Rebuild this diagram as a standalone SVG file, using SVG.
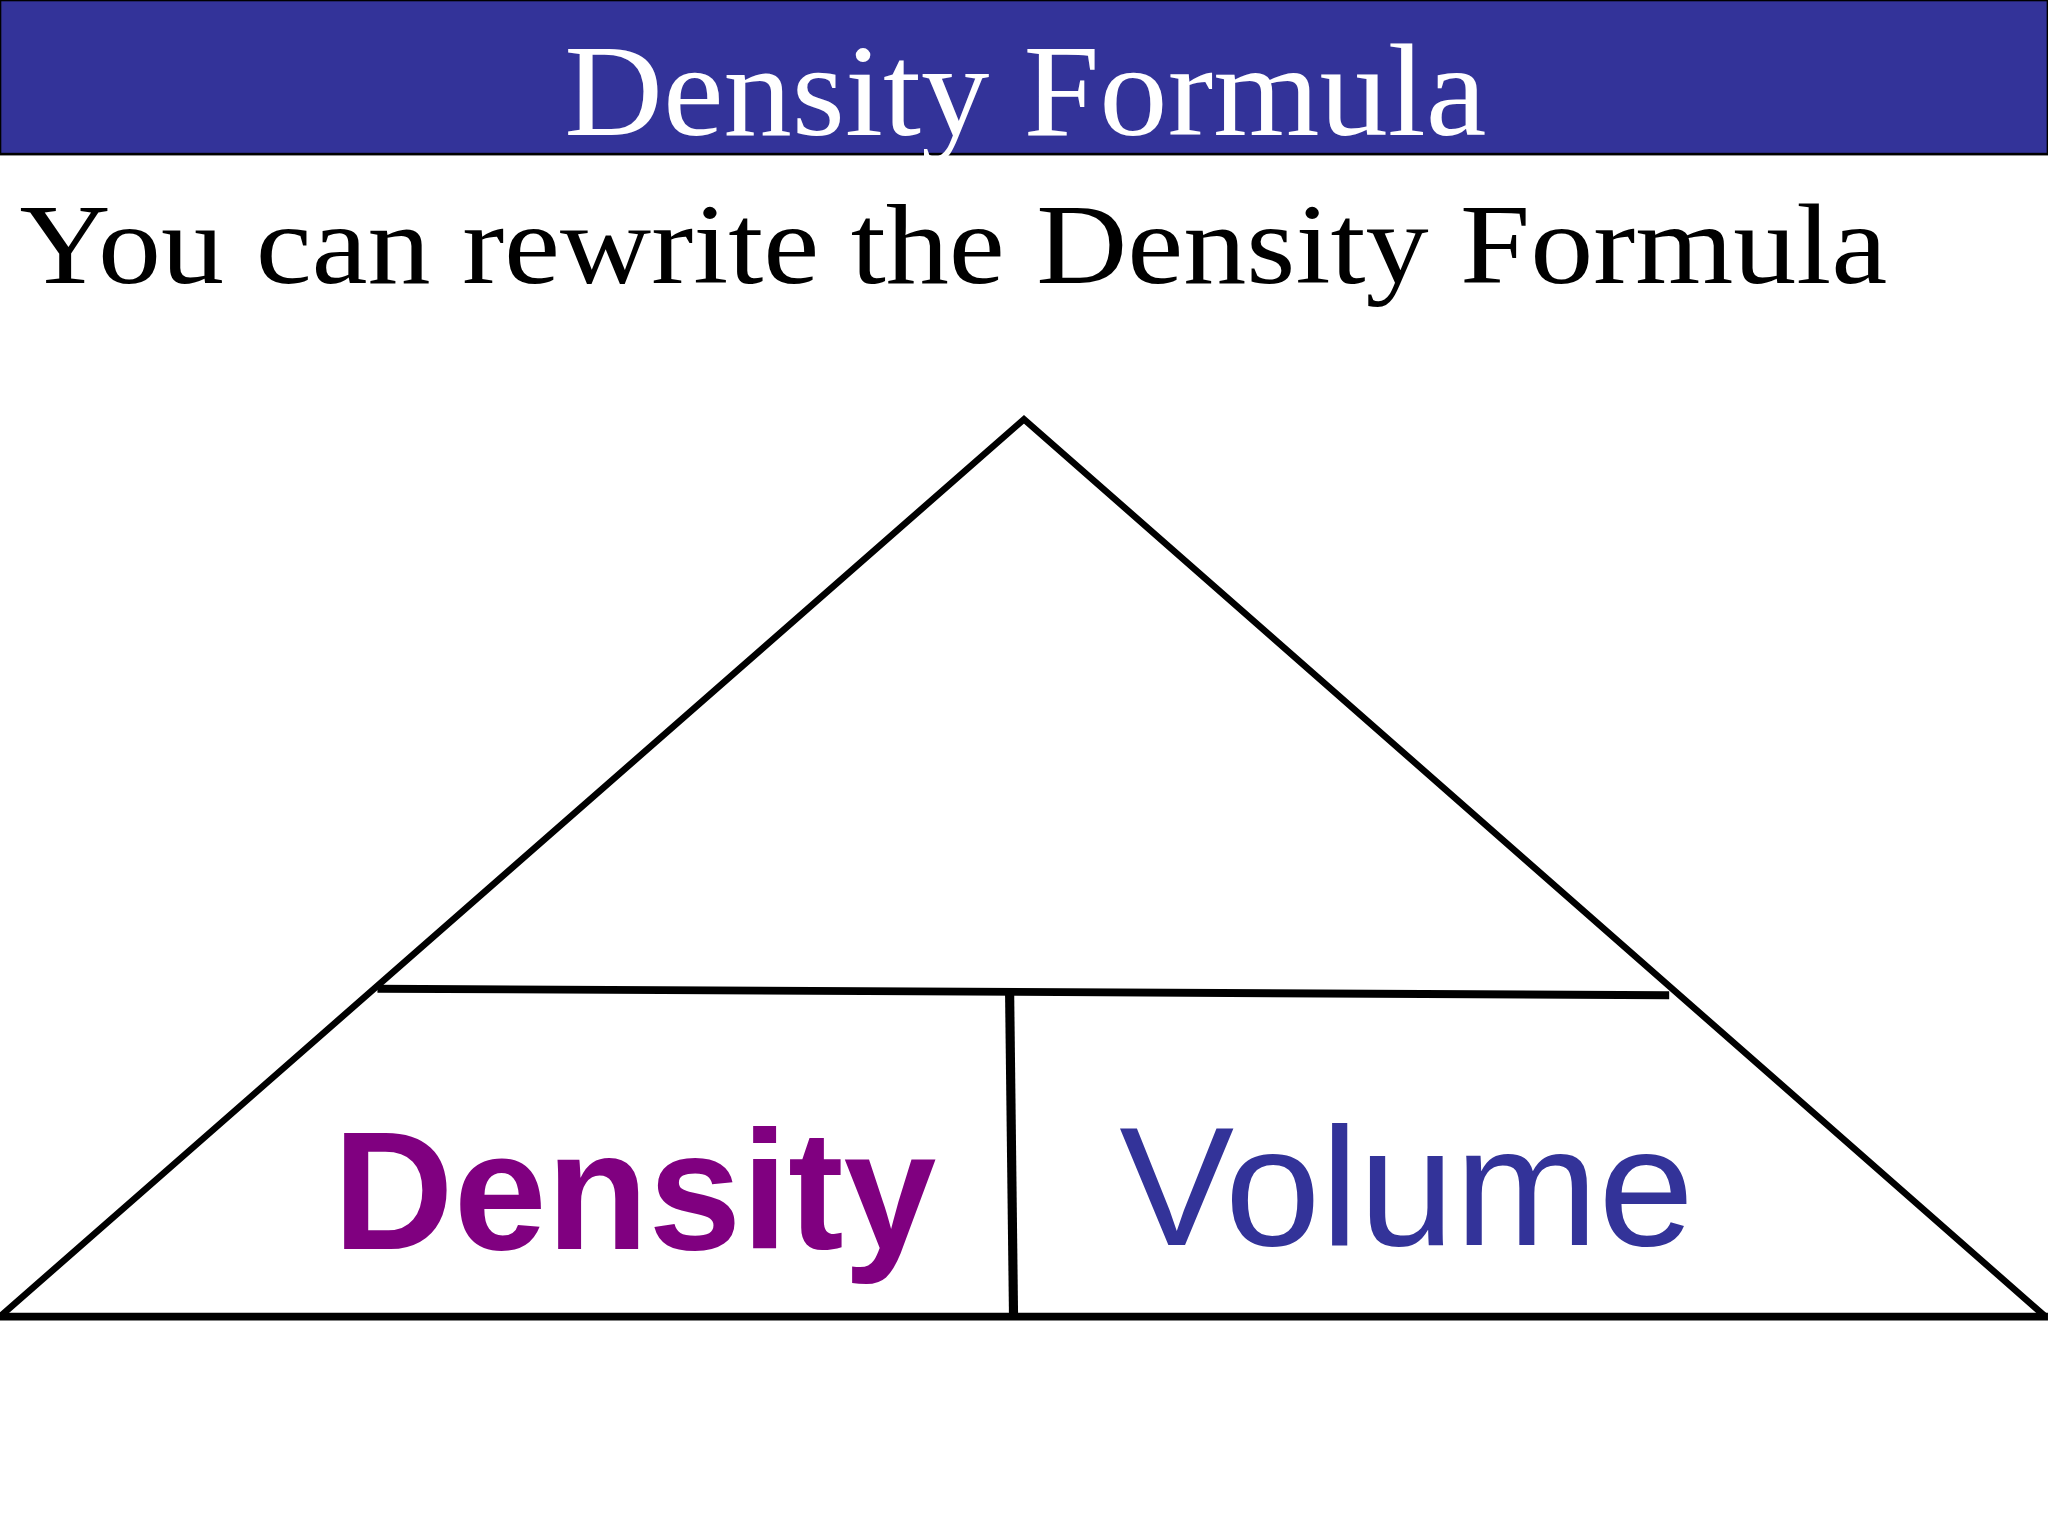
<svg xmlns="http://www.w3.org/2000/svg" width="2048" height="1536" viewBox="0 0 2048 1536">
<style>
.ln{stroke:#000;fill:none}
.serif{font-family:"Liberation Serif",serif}
.sans{font-family:"Liberation Sans",sans-serif}
</style>
<rect width="2048" height="1536" fill="#fff"/>
<g transform="scale(1.3061)">
<g id="header">
<rect x="0" y="0" width="1568" height="118" fill="#333399" stroke="#000" stroke-width="2"/>
<text x="432" y="103" class="serif" font-size="100" fill="#fff" textLength="706" lengthAdjust="spacingAndGlyphs">Density Formula</text>
</g>
<g id="subtitle">
<text x="15" y="217" class="serif" font-size="88" fill="#000" textLength="1430" lengthAdjust="spacingAndGlyphs">You can rewrite the Density Formula</text>
</g>
<g id="connectors">
<polyline class="ln" stroke-width="5" points="0,1008 784,321 1566,1008"/>
<line class="ln" stroke-width="6" x1="0" y1="1008" x2="1568" y2="1008"/>
<line class="ln" stroke-width="6" x1="289" y1="757" x2="1278" y2="762"/>
<line class="ln" stroke-width="7" x1="773" y1="760" x2="776" y2="1008"/>
</g>
<g id="density">
<text x="255" y="956" class="sans" font-weight="bold" font-size="130" fill="#800080" textLength="462" lengthAdjust="spacingAndGlyphs">Density</text>
</g>
<g id="volume">
<text x="857" y="953" class="sans" font-size="130" fill="#333399" textLength="440" lengthAdjust="spacingAndGlyphs">Volume</text>
</g>
</g>
</svg>
